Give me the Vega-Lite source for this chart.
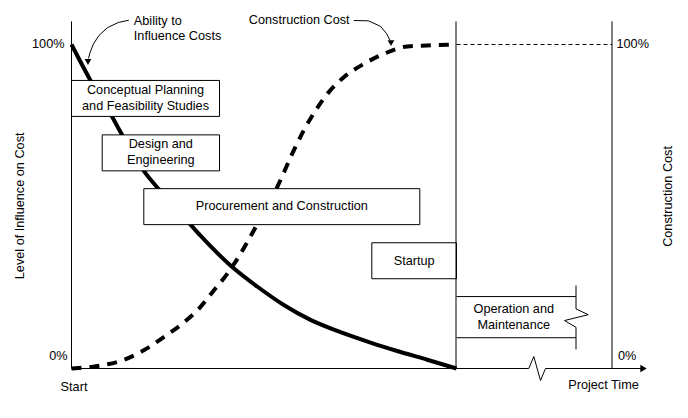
{
  "$schema": "https://vega.github.io/schema/vega-lite/v6.json",
  "width": 688,
  "height": 418,
  "autosize": {"type": "fit", "contains": "padding"},
  "padding": 0,
  "background": "white",
  "config": {
    "view": {"stroke": null},
    "text": {"font": "Liberation Sans", "fontSize": 12.7, "color": "black"}
  },
  "datasets": {
    "influence": [
      {"t": 0, "pct": 100}, {"t": 19, "pct": 88.9}, {"t": 40.7, "pct": 77.6}, {"t": 50.7, "pct": 72.1},
      {"t": 72.3, "pct": 61.0}, {"t": 87.3, "pct": 55.3}, {"t": 119, "pct": 44.4}, {"t": 129, "pct": 41.0},
      {"t": 159, "pct": 31.8}, {"t": 185.7, "pct": 25.3}, {"t": 212.3, "pct": 19.6}, {"t": 239, "pct": 15.0},
      {"t": 265.7, "pct": 11.6}, {"t": 299, "pct": 8.0}, {"t": 325.7, "pct": 5.4}, {"t": 355.7, "pct": 2.7},
      {"t": 385, "pct": 0}
    ],
    "cost": [
      {"t": 0, "pct": 0}, {"t": 29, "pct": 0.9}, {"t": 50.7, "pct": 2.5}, {"t": 72.3, "pct": 5.6},
      {"t": 92.3, "pct": 9.7}, {"t": 110.7, "pct": 13.8}, {"t": 127.3, "pct": 18.4}, {"t": 142.3, "pct": 24.1},
      {"t": 155.7, "pct": 29.2}, {"t": 169, "pct": 35.4}, {"t": 182.3, "pct": 42.6}, {"t": 205.7, "pct": 56.0},
      {"t": 222.3, "pct": 67.3}, {"t": 232.3, "pct": 73.5}, {"t": 244, "pct": 79.6}, {"t": 257.3, "pct": 85.3},
      {"t": 272.3, "pct": 89.9}, {"t": 292.3, "pct": 94.0}, {"t": 312.3, "pct": 97.1}, {"t": 335.7, "pct": 99.4},
      {"t": 355.7, "pct": 99.7}, {"t": 385, "pct": 100}
    ],
    "phases": [
      {"phase": "Conceptual Planning and Feasibility Studies", "start": 0, "end": 148, "lo": 77.8, "hi": 88.9},
      {"phase": "Design and Engineering", "start": 30.7, "end": 148, "lo": 61.0, "hi": 72.1},
      {"phase": "Procurement and Construction", "start": 72.3, "end": 348.3, "lo": 44.4, "hi": 55.5},
      {"phase": "Startup", "start": 300.3, "end": 385, "lo": 27.7, "hi": 38.8}
    ],
    "outline": [
      {"part": "left axis", "i": 0, "t": 0, "pct": 107.1}, {"part": "left axis", "i": 1, "t": 0, "pct": 0},
      {"part": "time axis", "i": 0, "t": 0, "pct": 0}, {"part": "time axis", "i": 1, "t": 457.3, "pct": 0},
      {"part": "time axis", "i": 2, "t": 462.3, "pct": 3.7}, {"part": "time axis", "i": 3, "t": 469, "pct": -3.7},
      {"part": "time axis", "i": 4, "t": 474, "pct": 0}, {"part": "time axis", "i": 5, "t": 570, "pct": 0},
      {"part": "startup end", "i": 0, "t": 384.5, "pct": 107.1}, {"part": "startup end", "i": 1, "t": 384.5, "pct": 0},
      {"part": "right axis", "i": 0, "t": 540.5, "pct": 107.1}, {"part": "right axis", "i": 1, "t": 540.5, "pct": 0},
      {"part": "operation top", "i": 0, "t": 385, "pct": 22.2}, {"part": "operation top", "i": 1, "t": 504.5, "pct": 22.2},
      {"part": "operation bottom", "i": 0, "t": 385, "pct": 9.5}, {"part": "operation bottom", "i": 1, "t": 504.5, "pct": 9.5},
      {"part": "operation edge", "i": 0, "t": 504.5, "pct": 25.6}, {"part": "operation edge", "i": 1, "t": 504.5, "pct": 18.4},
      {"part": "operation edge", "i": 2, "t": 516.7, "pct": 16.6}, {"part": "operation edge", "i": 3, "t": 493, "pct": 14.8},
      {"part": "operation edge", "i": 4, "t": 504.5, "pct": 12.7}, {"part": "operation edge", "i": 5, "t": 504.5, "pct": 5.9},
      {"part": "ability pointer", "i": 0, "t": 57.3, "pct": 107.5}, {"part": "ability pointer", "i": 1, "t": 47, "pct": 106.8},
      {"part": "ability pointer", "i": 2, "t": 36, "pct": 105.2}, {"part": "ability pointer", "i": 3, "t": 27.5, "pct": 102.8},
      {"part": "ability pointer", "i": 4, "t": 22, "pct": 100.2}, {"part": "ability pointer", "i": 5, "t": 18.5, "pct": 97.5},
      {"part": "ability pointer", "i": 6, "t": 17, "pct": 95.7},
      {"part": "cost pointer", "i": 0, "t": 282.3, "pct": 107.4}, {"part": "cost pointer", "i": 1, "t": 297, "pct": 107.3},
      {"part": "cost pointer", "i": 2, "t": 309, "pct": 105.6}, {"part": "cost pointer", "i": 3, "t": 315, "pct": 103.4},
      {"part": "cost pointer", "i": 4, "t": 318.5, "pct": 101.3}
    ],
    "full": [{"t": 385, "pct": 100}, {"t": 540.5, "pct": 100}],
    "pointerTips": [{"t": 16.5, "pct": 94.6}, {"t": 319.5, "pct": 100.4}],
    "axisTip": [{"t": 572, "pct": 0}],
    "centerText": [
      {"label": "Conceptual Planning", "t": 74, "pct": 85.8},
      {"label": "and Feasibility Studies", "t": 74, "pct": 80.9},
      {"label": "Design and", "t": 89.3, "pct": 69.3},
      {"label": "Engineering", "t": 89.3, "pct": 64.2},
      {"label": "Procurement and Construction", "t": 210.3, "pct": 50.0},
      {"label": "Startup", "t": 342.7, "pct": 33.3},
      {"label": "Operation and", "t": 442.3, "pct": 18.3},
      {"label": "Maintenance", "t": 442.3, "pct": 13.4},
      {"label": "Start", "t": 2.5, "pct": -5.7},
      {"label": "Project Time", "t": 532, "pct": -5.2}
    ],
    "leftText": [
      {"label": "Ability to", "t": 62.3, "pct": 107.1},
      {"label": "Influence Costs", "t": 62.3, "pct": 102.5},
      {"label": "Construction Cost", "t": 177.3, "pct": 107.6},
      {"label": "100%", "t": 545, "pct": 100},
      {"label": "0%", "t": 546.5, "pct": 4.0}
    ],
    "rightText": [
      {"label": "100%", "t": -7, "pct": 100},
      {"label": "0%", "t": -4, "pct": 4.0}
    ],
    "titles": [
      {"label": "Level of Influence on Cost", "t": -52, "pct": 50.2},
      {"label": "Construction Cost", "t": 596, "pct": 53.1}
    ]
  },
  "layer": [
    {
      "data": {"name": "influence"},
      "mark": {"type": "line", "color": "black", "strokeWidth": 4, "interpolate": "monotone"},
      "encoding": {
        "x": {"field": "t", "type": "quantitative", "scale": {"domain": [-71.5, 616.5], "nice": false, "zero": false}, "axis": null},
        "y": {"field": "pct", "type": "quantitative", "scale": {"domain": [-15.28, 113.73], "nice": false, "zero": false}, "axis": null}
      }
    },
    {
      "data": {"name": "cost"},
      "mark": {"type": "line", "color": "black", "strokeWidth": 4, "strokeDash": [10, 8], "interpolate": "monotone"},
      "encoding": {
        "x": {"field": "t", "type": "quantitative"},
        "y": {"field": "pct", "type": "quantitative"}
      }
    },
    {
      "data": {"name": "phases"},
      "mark": {"type": "rect", "fill": "white", "stroke": "black", "strokeWidth": 1},
      "encoding": {
        "x": {"field": "start", "type": "quantitative"},
        "x2": {"field": "end"},
        "y": {"field": "lo", "type": "quantitative"},
        "y2": {"field": "hi"}
      }
    },
    {
      "data": {"name": "outline"},
      "mark": {"type": "line", "color": "black", "strokeWidth": 1},
      "encoding": {
        "x": {"field": "t", "type": "quantitative"},
        "y": {"field": "pct", "type": "quantitative"},
        "detail": {"field": "part"},
        "order": {"field": "i", "type": "quantitative"}
      }
    },
    {
      "data": {"name": "full"},
      "mark": {"type": "line", "color": "black", "strokeWidth": 1, "strokeDash": [4, 3]},
      "encoding": {
        "x": {"field": "t", "type": "quantitative"},
        "y": {"field": "pct", "type": "quantitative"}
      }
    },
    {
      "data": {"name": "pointerTips"},
      "mark": {"type": "point", "shape": "triangle-down", "filled": true, "color": "black", "size": 45, "opacity": 1},
      "encoding": {
        "x": {"field": "t", "type": "quantitative"},
        "y": {"field": "pct", "type": "quantitative"}
      }
    },
    {
      "data": {"name": "axisTip"},
      "mark": {"type": "point", "shape": "triangle-right", "filled": true, "color": "black", "size": 55, "opacity": 1},
      "encoding": {
        "x": {"field": "t", "type": "quantitative"},
        "y": {"field": "pct", "type": "quantitative"}
      }
    },
    {
      "data": {"name": "centerText"},
      "mark": {"type": "text", "align": "center", "baseline": "middle"},
      "encoding": {
        "x": {"field": "t", "type": "quantitative"},
        "y": {"field": "pct", "type": "quantitative"},
        "text": {"field": "label"}
      }
    },
    {
      "data": {"name": "leftText"},
      "mark": {"type": "text", "align": "left", "baseline": "middle"},
      "encoding": {
        "x": {"field": "t", "type": "quantitative"},
        "y": {"field": "pct", "type": "quantitative"},
        "text": {"field": "label"}
      }
    },
    {
      "data": {"name": "rightText"},
      "mark": {"type": "text", "align": "right", "baseline": "middle"},
      "encoding": {
        "x": {"field": "t", "type": "quantitative"},
        "y": {"field": "pct", "type": "quantitative"},
        "text": {"field": "label"}
      }
    },
    {
      "data": {"name": "titles"},
      "mark": {"type": "text", "align": "center", "baseline": "middle", "angle": 270},
      "encoding": {
        "x": {"field": "t", "type": "quantitative"},
        "y": {"field": "pct", "type": "quantitative"},
        "text": {"field": "label"}
      }
    }
  ]
}
